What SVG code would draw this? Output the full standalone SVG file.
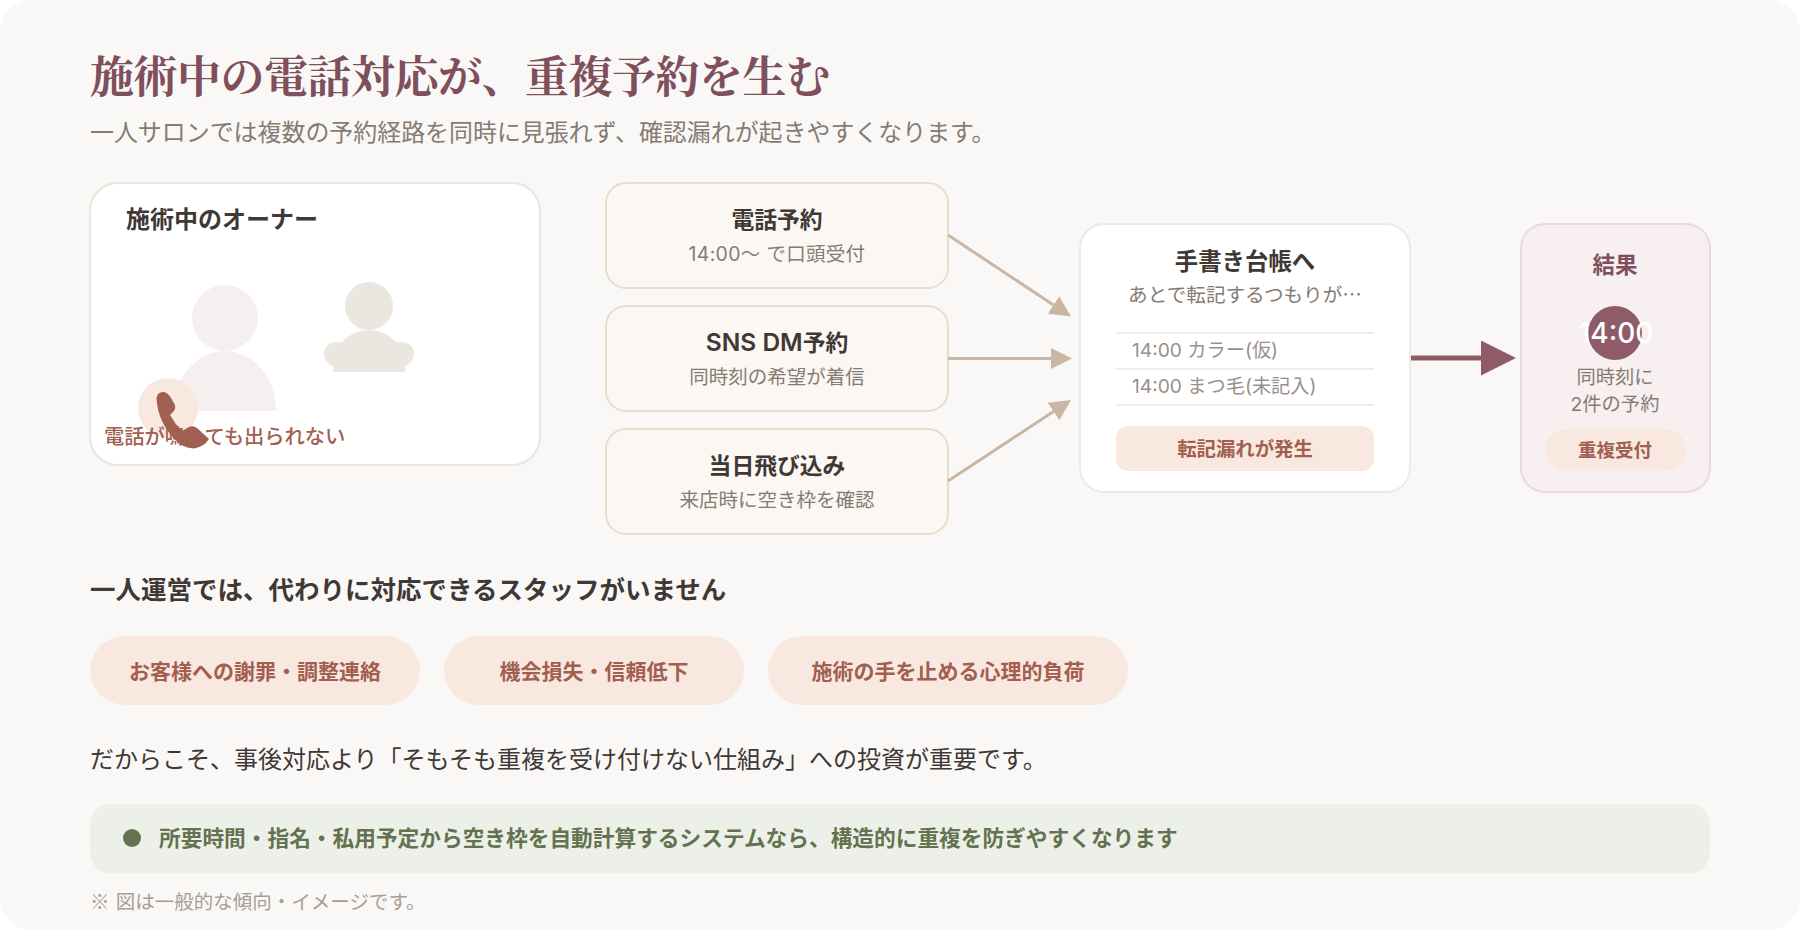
<svg xmlns="http://www.w3.org/2000/svg" width="1800" height="930" viewBox="0 0 1800 930">
<defs>
<marker id="tip-tan" markerWidth="7" markerHeight="7" refX="0" refY="3.5" orient="auto" markerUnits="strokeWidth"><path d="M0 0L7 3.5L0 7Z" fill="#c9b7a3"/></marker>
<marker id="tip-plum" markerWidth="7" markerHeight="7" refX="0" refY="3.5" orient="auto" markerUnits="strokeWidth"><path d="M0 0L7 3.5L0 7Z" fill="#8f5b68"/></marker>
</defs>
<style>
text{font-family:Inter,"Noto Sans CJK JP","Noto Sans",sans-serif}
.c{text-anchor:middle}
.channel{fill:#fbf7f3;stroke:#eadccd;stroke-width:2}
.ct{font-size:22.8px;font-weight:600;fill:#3f3834}
.cs{font-size:19.5px;fill:#857b73}
.rule{stroke:#f0ebe6;stroke-width:2}
.slot{font-size:19.2px;fill:#9a9087}
.pill{fill:#f8e8e0}
.pt{font-weight:700;fill:#a25f50;text-anchor:middle}
.big{font-size:21px}
.cjk{font-family:"Noto Sans CJK JP",sans-serif}
</style>
<rect width="1800" height="930" fill="#ffffff"/>
<rect width="1800" height="930" rx="32" fill="#faf8f6"/>
<text x="90" y="93" font-size="44" font-weight="700" fill="#7f4f5c" letter-spacing="-0.5" style="font-family:'Noto Serif CJK JP','Noto Sans CJK JP',serif">施術中の電話対応が、重複予約を生む</text>
<text x="90" y="141" font-size="23.95" fill="#857b73">一人サロンでは複数の予約経路を同時に見張れず、確認漏れが起きやすくなります。</text>
<g id="owner">
<rect x="90" y="183" width="450" height="282" rx="28" fill="#fff" stroke="#ece5de" stroke-width="2"/>
<text x="126" y="228" font-size="24" font-weight="600" fill="#3f3834">施術中のオーナー</text>
<circle cx="225" cy="318" r="33" fill="#f6eff0"/>
<path d="M174 411A51 60 0 0 1 276 411Z" fill="#f6eff0"/>
<circle cx="369" cy="306" r="24" fill="#ece6e0"/>
<path d="M333 372V366A36 36 0 0 1 405 366V372Z" fill="#ece6e0"/>
<rect x="324" y="342" width="90" height="24" rx="12" fill="#ece6e0"/>
<circle cx="168" cy="408" r="30" fill="#f8e8e0"/>
<text x="104" y="444" font-size="20.3" font-weight="500" fill="#a25f50">電話が鳴っても出られない</text>
<path d="M156.5 398Q157.5 391.5 164 392Q168 393 171 398L175 405Q176 409 173 412L170 415Q175 424 182 431L189 427Q193 425 197 428L209 439Q204 447 194 448.5Q186 448 180 444Q168 434 162 421Q157 410 156.5 398Z" fill="#a05f50"/>
</g>
<g id="channel-phone">
<rect class="channel" x="606" y="183" width="342" height="105" rx="20"/>
<text class="c ct" x="777" y="228">電話予約</text>
<text class="c cs" x="777" y="261" letter-spacing="0.3">14:00〜 で口頭受付</text>
</g>
<g id="channel-sns">
<rect class="channel" x="606" y="306" width="342" height="105" rx="20"/>
<text class="c ct" x="777" y="351"><tspan font-size="24.5">SNS DM</tspan>予約</text>
<text class="c cs" x="777" y="384">同時刻の希望が着信</text>
</g>
<g id="channel-walkin">
<rect class="channel" x="606" y="429" width="342" height="105" rx="20"/>
<text class="c ct" x="777" y="474">当日飛び込み</text>
<text class="c cs" x="777" y="507">来店時に空き枠を確認</text>
</g>
<g id="connectors" fill="none">
<line x1="948" y1="235" x2="1053.5" y2="305" stroke="#c9b7a3" stroke-width="3" marker-end="url(#tip-tan)"/>
<line x1="948" y1="358.5" x2="1051" y2="358.5" stroke="#c9b7a3" stroke-width="3" marker-end="url(#tip-tan)"/>
<line x1="948" y1="481" x2="1053.5" y2="411.5" stroke="#c9b7a3" stroke-width="3" marker-end="url(#tip-tan)"/>
<line x1="1410" y1="358" x2="1481" y2="358" stroke="#8f5b68" stroke-width="5" marker-end="url(#tip-plum)"/>
</g>
<g id="ledger">
<rect x="1080" y="224" width="330" height="268" rx="24" fill="#fff" stroke="#efe9e4" stroke-width="2"/>
<text class="c" x="1245" y="270" font-size="23.4" font-weight="600" fill="#3f3834">手書き台帳へ</text>
<text class="c cjk" x="1245" y="302" font-size="19.6" fill="#857b73">あとで転記するつもりが…</text>
<line class="rule" x1="1116" y1="333" x2="1374" y2="333"/>
<line class="rule" x1="1116" y1="369" x2="1374" y2="369"/>
<line class="rule" x1="1116" y1="405" x2="1374" y2="405"/>
<text class="slot" x="1132" y="357">14:00 カラー(仮)</text>
<text class="slot" x="1132" y="393">14:00 まつ毛(未記入)</text>
<rect class="pill" x="1116" y="426" width="258" height="45" rx="12"/>
<text class="pt" x="1245" y="456" font-size="19.4">転記漏れが発生</text>
</g>
<g id="result">
<rect x="1521" y="224" width="189" height="268" rx="24" fill="#f7eff0" stroke="#ecd9dd" stroke-width="2"/>
<text class="c" x="1615" y="273" font-size="22.5" font-weight="600" fill="#7f4f5c">結果</text>
<circle cx="1615" cy="333" r="27" fill="#8f5b68"/>
<text class="c" x="1616" y="343" font-size="28" font-weight="500" fill="#fff">14:00</text>
<text class="c" x="1615" y="384" font-size="19.3" fill="#857b73">同時刻に</text>
<text class="c" x="1615" y="411" font-size="19.3" fill="#857b73">2件の予約</text>
<rect class="pill" x="1545" y="429" width="141" height="42" rx="21"/>
<text class="pt" x="1615" y="457" font-size="18.5">重複受付</text>
</g>
<text x="90" y="599" font-size="25.5" font-weight="600" fill="#3f3834">一人運営では、代わりに対応できるスタッフがいません</text>
<g id="impact-apology"><rect class="pill" x="90" y="636" width="330" height="69" rx="34.5"/><text class="pt big" x="255" y="679">お客様への謝罪・調整連絡</text></g>
<g id="impact-loss"><rect class="pill" x="444" y="636" width="300" height="69" rx="34.5"/><text class="pt big" x="594" y="679">機会損失・信頼低下</text></g>
<g id="impact-stress"><rect class="pill" x="768" y="636" width="360" height="69" rx="34.5"/><text class="pt big" x="948" y="679">施術の手を止める心理的負荷</text></g>
<text x="90" y="768" font-size="24" fill="#3f3834">だからこそ、事後対応より「そもそも重複を受け付けない仕組み」への投資が重要です。</text>
<g id="solution">
<rect x="90" y="804" width="1620" height="69" rx="20" fill="#edf0e8"/>
<circle cx="132" cy="838" r="9" fill="#63724f"/>
<text x="159" y="846" font-size="21.7" font-weight="700" fill="#63724f">所要時間・指名・私用予定から空き枠を自動計算するシステムなら、構造的に重複を防ぎやすくなります</text>
</g>
<text class="cjk" x="90" y="909" font-size="19.5" fill="#a89e94" word-spacing="2">※ 図は一般的な傾向・イメージです。</text>
</svg>
